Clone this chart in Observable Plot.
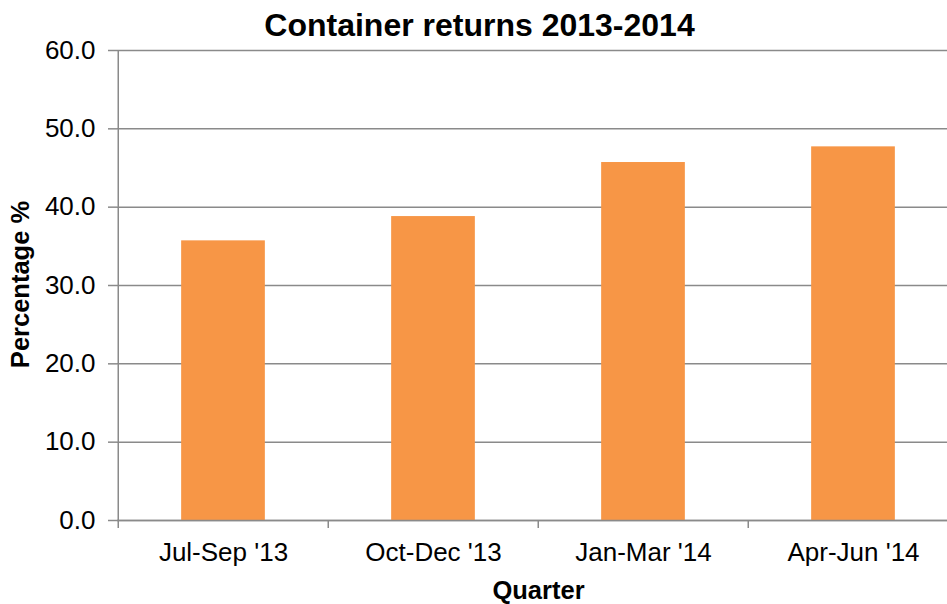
<!DOCTYPE html>
<html>
<head>
<meta charset="utf-8">
<script src="https://cdn.jsdelivr.net/npm/d3@7"></script>
<script src="https://cdn.jsdelivr.net/npm/@observablehq/plot@0.6"></script>
<style>
  html, body { margin: 0; padding: 0; background: #fff; overflow: hidden; width: 947px; height: 604px; }
  #chart { width: 947px; height: 604px; overflow: hidden; }
  #chart svg { font-family: "Liberation Sans", Arial, sans-serif; display: block; }
</style>
</head>
<body>
<div id="chart"></div>
<script>
const quarters = ["Jul-Sep '13", "Oct-Dec '13", "Jan-Mar '14", "Apr-Jun '14"];
const percentages = [35.7, 38.8, 45.7, 47.7];
const yTicks = [0, 10, 20, 30, 40, 50, 60];
const title = "Container returns 2013-2014";
const xLabel = "Quarter";
const yLabel = "Percentage %";

const data = quarters.map((q, i) => ({quarter: q, value: percentages[i]}));

const W = 947, H = 604;
const mL = 117, mR = -12, mT = 50, mB = 84;
const bw = (W - mL - mR) / quarters.length;
const grid = "#8a8a8a";

const chart = Plot.plot({
  width: W,
  height: H,
  marginLeft: mL,
  marginRight: mR,
  marginTop: mT,
  marginBottom: mB,
  style: {fontFamily: '"Liberation Sans", Arial, sans-serif', background: "#fff", overflow: "hidden"},
  x: {domain: quarters, padding: 0},
  y: {domain: [0, 60]},
  marks: [
    Plot.gridY(yTicks, {stroke: grid, strokeOpacity: 1, strokeWidth: 1.5}),
    Plot.barY(data, {x: "quarter", y: "value", fill: "#F79646", insetLeft: bw * 0.3, insetRight: bw * 0.3}),
    Plot.ruleY([0], {stroke: grid, strokeWidth: 1.5}),
    // left axis line
    Plot.ruleX([quarters[0]], {x: d => d, y1: 0, y2: 60, stroke: grid, strokeWidth: 1.5, dx: -bw / 2}),
    // category boundary ticks
    Plot.ruleX(quarters, {x: d => d, y1: 0, y2: 0, insetBottom: -8, stroke: grid, strokeWidth: 1.5, dx: -bw / 2}),
    Plot.axisY({ticks: yTicks, tickFormat: d3.format(".1f"), tickSize: 9, tickPadding: 13, fontSize: 26, stroke: grid, strokeWidth: 1.5, label: null, color: "#000"}),
    Plot.axisX({tickSize: 0, tickPadding: 22, fontSize: 26, label: null, color: "#000"}),
    Plot.text([yLabel], {text: d => d, frameAnchor: "left", textAnchor: "middle", lineAnchor: "middle", dx: -97, dy: -1, rotate: -90, fontSize: 25.5, fontWeight: "bold", fill: "#000"}),
    Plot.text([xLabel], {text: d => d, frameAnchor: "bottom", lineAnchor: "middle", dy: 70, fontSize: 25.5, fontWeight: "bold", fill: "#000"}),
    Plot.text([title], {text: d => d, frameAnchor: "top", lineAnchor: "middle", dx: -59, dy: -24.5, fontSize: 32, fontWeight: "bold", fill: "#000"})
  ]
});
document.getElementById("chart").appendChild(chart);
</script>
</body>
</html>
